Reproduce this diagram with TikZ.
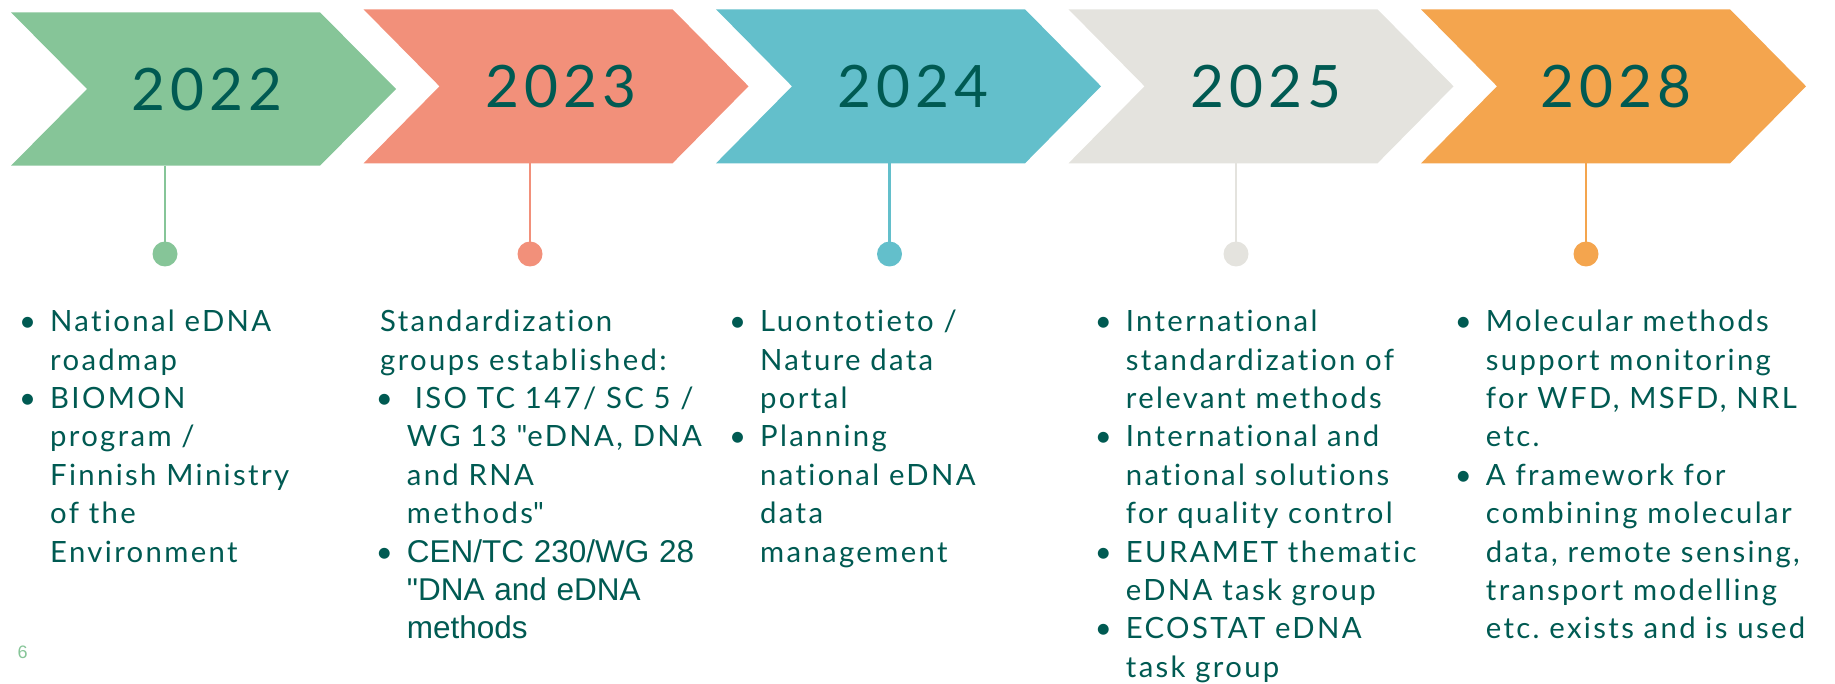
\documentclass[tikz,border=0pt]{standalone}
\usepackage{fontspec}
\setmainfont{Lato}[LetterSpace=8,Ligatures=NoCommon]
\newfontfamily\yearfont{Lato}[LetterSpace=9]
\newfontfamily\arialfont{Liberation Sans}
\definecolor{ink}{HTML}{005A52}
\definecolor{cgreen}{HTML}{86C598}
\definecolor{csalmon}{HTML}{F2907A}
\definecolor{cteal}{HTML}{63BFCB}
\definecolor{cgray}{HTML}{E4E3DE}
\definecolor{corange}{HTML}{F4A54E}
\newcommand\bl{\makebox[45pt][c]{•}}
\newcommand\ind{\makebox[45pt]{}}
\newcommand\arl{\arialfont\fontsize{31.5}{38.4}\selectfont}
\frenchspacing
\begin{document}
\begin{tikzpicture}[x=1pt,y=-1pt,
  year/.style={inner sep=0pt, anchor=center, text=ink, font=\yearfont\fontsize{58.5}{60}\selectfont},
  body/.style={anchor=base west, inner sep=0pt, text width=440pt, align=left, text=ink, font=\fontsize{29.3}{38.4}\selectfont\frenchspacing},
  stem/.style={line width=2.5pt},
  dot/.style={circle, inner sep=0pt, minimum size=25pt}]
\useasboundingbox (0,0) rectangle (1835,684);
% chevrons
\newcommand\chev[4]{% L, T, B, color
  \fill[#4] (#1,#2) -- ({#1+309},#2) -- ({#1+385},{(#2+#3)/2}) -- ({#1+309},#3) -- (#1,#3) -- ({#1+76},{(#2+#3)/2}) -- cycle;}
\chev{11}{12.3}{165.7}{cgreen}
\chev{363.5}{9.3}{163.3}{csalmon}
\chev{716}{9.3}{163.3}{cteal}
\chev{1068.5}{9.3}{163.3}{cgray}
\chev{1421}{9.3}{163.3}{corange}
% years
\node[year] (y1) at (207,89.5) {2022};
\node[year] (y2) at (561,86.5) {2023};
\node[year] (y3) at (913,86.5) {2024};
\node[year] (y4) at (1266,86.5) {2025};
\node[year] (y5) at (1616,86.5) {2028};
% stems and dots
\coordinate (s1) at (165,165.7);
\coordinate (s2) at (530,163.3);
\coordinate (s3) at (889.5,163.3);
\coordinate (s4) at (1236,163.3);
\coordinate (s5) at (1586,163.3);
\node[dot, fill=cgreen] (d1) at (165,254) {};
\node[dot, fill=csalmon] (d2) at (530,254) {};
\node[dot, fill=cteal] (d3) at (889.5,254) {};
\node[dot, fill=cgray] (d4) at (1236,254) {};
\node[dot, fill=corange] (d5) at (1586,254) {};
\draw[stem, cgreen] (s1) -- (d1.center);
\draw[stem, csalmon] (s2) -- (d2.center);
\draw[stem, cteal] (s3) -- (d3.center);
\draw[stem, cgray] (s4) -- (d4.center);
\draw[stem, corange] (s5) -- (d5.center);
% texts
\node[body] (t1) at (5,331.7) {\bl National eDNA\\ \ind roadmap\\ \bl BIOMON\\ \ind program /\\ \ind Finnish Ministry\\ \ind of the\\ \ind Environment};
\node[body] (t2) at (361.7,331.7) {\hspace*{18.3pt}Standardization\\ \hspace*{18.3pt}groups established:\\ \bl\hspace*{8pt}ISO TC 147/ SC 5 /\\ \ind WG 13 \textquotedbl eDNA, DNA\\ \ind and RNA\\ \ind methods\textquotedbl\\ \bl{\arl CEN/TC 230/WG 28}\\ \ind{\arl\textquotedbl DNA and eDNA}\\ \ind{\arl methods}};
\node[body] (t3) at (715,331.7) {\bl Luontotieto /\\ \ind Nature data\\ \ind portal\\ \bl Planning\\ \ind national eDNA\\ \ind data\\ \ind management};
\node[body] (t4) at (1080.7,331.7) {\bl International\\ \ind standardization of\\ \ind relevant methods\\ \bl International and\\ \ind national solutions\\ \ind for quality control\\ \bl EURAMET thematic\\ \ind eDNA task group\\ \bl ECOSTAT eDNA\\ \ind task group};
\node[body] (t5) at (1440.7,331.7) {\bl Molecular methods\\ \ind support monitoring\\ \ind for WFD, MSFD, NRL\\ \ind etc.\\ \bl A framework for\\ \ind combining molecular\\ \ind data, remote sensing,\\ \ind transport modelling\\ \ind etc. exists and is used};
\node[anchor=base west, inner sep=0pt, text=cgreen, font=\arialfont\fontsize{18}{20}\selectfont] (pg) at (17.5,658.3) {6};
\end{tikzpicture}
\end{document}
